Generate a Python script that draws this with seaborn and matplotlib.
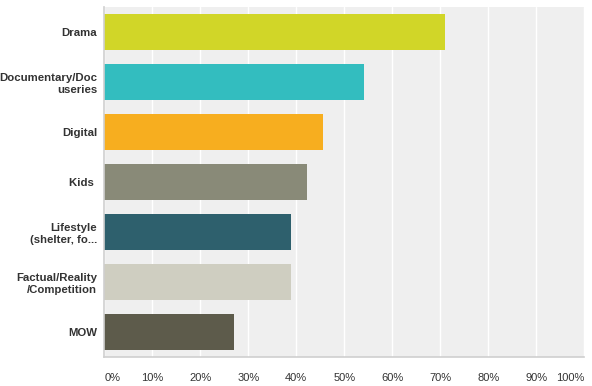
import matplotlib
matplotlib.use("Agg")
import matplotlib.pyplot as plt
import seaborn as sns
import pandas as pd
from matplotlib.ticker import FuncFormatter

categories = ["Drama", "Documentary/Doc\nuseries", "Digital", "Kids ",
              "Lifestyle\n(shelter, fo...", "Factual/Reality\n/Competition", "MOW"]
values = [71.0, 54.1, 45.6, 42.2, 38.9, 38.9, 27.0]
colors = ["#d1d628", "#33bdbf", "#f7ae1f", "#898a78", "#2e606d", "#cfcec1", "#5d5b4b"]
xticks = [0, 10, 20, 30, 40, 50, 60, 70, 80, 90, 100]

sns.set_theme(style="white")
plt.rcParams['font.family'] = ['Liberation Sans', 'DejaVu Sans']

df = pd.DataFrame({"category": categories, "value": values})

fig = plt.figure(figsize=(5.92, 3.86), dpi=100)
W, H = 592, 386
ax = fig.add_axes([104.3 / W, (H - 357) / H, 480 / W, 350 / H])
ax.set_facecolor("#efefef")

sns.barplot(data=df, x="value", y="category", hue="category", palette=colors,
            orient="h", width=0.72, legend=False, ax=ax, saturation=1,
            linewidth=0, edgecolor="none")

ax.set_xlim(0, 100)
ax.set_ylim(6.5, -0.5)
ax.set_xticks(xticks)
ax.xaxis.set_major_formatter(FuncFormatter(lambda v, p: f"{int(v)}%"))
ax.grid(axis="x", color="white", linewidth=1.0)
ax.grid(axis="y", visible=False)
ax.set_axisbelow(True)

for s in ["top", "right"]:
    ax.spines[s].set_visible(False)
for s in ["left", "bottom"]:
    ax.spines[s].set_color("#cfcfcf")
    ax.spines[s].set_linewidth(1.2)

ax.set_xlabel("")
ax.set_ylabel("")
ax.tick_params(axis="x", length=0, pad=11.5, labelsize=8, labelcolor="#333333")
ax.tick_params(axis="y", length=0, pad=5, labelsize=8.2, labelcolor="#333333")
for lbl in ax.get_yticklabels():
    lbl.set_fontweight("bold")
    lbl.set_multialignment("right")
xl = ax.get_xticklabels()
xl[0].set_horizontalalignment("left")
xl[-1].set_horizontalalignment("right")

fig.savefig("out.png", dpi=100)
